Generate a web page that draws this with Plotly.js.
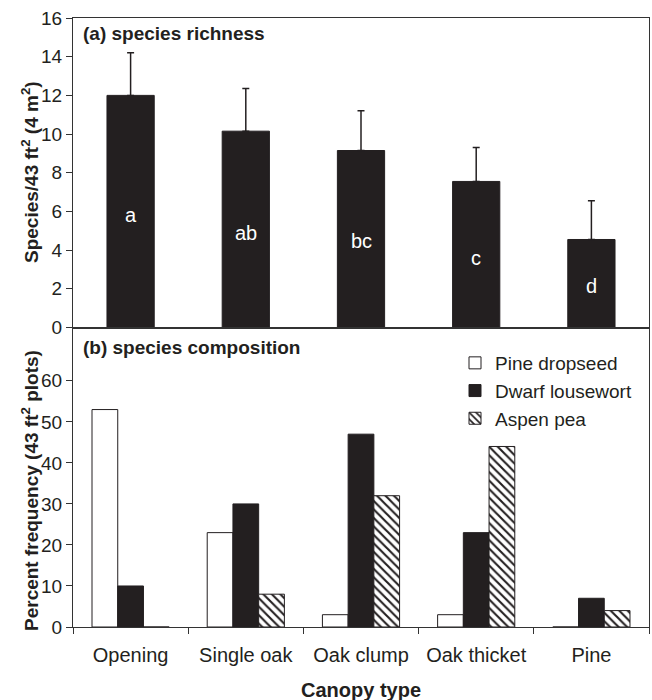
<!DOCTYPE html>
<html>
<head>
<meta charset="utf-8">
<script src="https://cdn.plot.ly/plotly-3.0.1.min.js"></script>
<style>html,body{margin:0;padding:0;background:#fff;}#chart{width:652px;height:700px;}</style>
</head>
<body>
<div id="chart"></div>
<script>
// ---- data ----
const categories = ['Opening', 'Single oak', 'Oak clump', 'Oak thicket', 'Pine'];
const richnessMean = [12.0, 10.15, 9.15, 7.55, 4.55];
const richnessErr = [2.2, 2.2, 2.05, 1.75, 2.0];
const richnessLetters = ['a', 'ab', 'bc', 'c', 'd'];
const letterY = [5.8, 4.9, 4.45, 3.6, 2.15];
const pineDropseed = [53, 23, 3, 3, 0];
const dwarfLousewort = [10, 30, 47, 23, 7];
const aspenPea = [0, 8, 32, 44, 4];
const richnessTicks = [0, 2, 4, 6, 8, 10, 12, 14, 16];
const freqTicks = [0, 10, 20, 30, 40, 50, 60];

const ink = '#231f20';
const font = 'Liberation Sans, Arial, sans-serif';

const traces = [
  {
    type: 'bar', x: categories, y: richnessMean, xaxis: 'x', yaxis: 'y',
    width: 0.41, showlegend: false,
    marker: {color: ink, line: {color: ink, width: 1}},
    error_y: {type: 'data', symmetric: false, array: richnessErr, arrayminus: richnessErr.map(() => 0),
              color: ink, thickness: 1.5, width: 3.5},
    hoverinfo: 'x+y'
  },
  {
    type: 'bar', name: 'Pine dropseed', x: categories, y: pineDropseed, xaxis: 'x2', yaxis: 'y2',
    marker: {color: '#ffffff', line: {color: ink, width: 1}}
  },
  {
    type: 'bar', name: 'Dwarf lousewort', x: categories, y: dwarfLousewort, xaxis: 'x2', yaxis: 'y2',
    marker: {color: ink, line: {color: ink, width: 1}}
  },
  {
    type: 'bar', name: 'Aspen pea', x: categories, y: aspenPea, xaxis: 'x2', yaxis: 'y2',
    marker: {color: '#ffffff', line: {color: ink, width: 1},
             pattern: {shape: '\\', fgcolor: ink, bgcolor: '#ffffff', size: 6, solidity: 0.35}}
  }
];

const annotations = richnessLetters.map((t, i) => ({
  text: t, x: categories[i], y: letterY[i], xref: 'x', yref: 'y',
  showarrow: false, font: {family: font, size: 20, color: '#ffffff'}
}));

annotations.push(
  {text: '<b>(a) species richness</b>', xref: 'paper', yref: 'paper', x: 0.014, y: (627 - 34) / 609,
   xanchor: 'left', yanchor: 'middle', showarrow: false, font: {family: font, size: 19, color: ink}},
  {text: '<b>(b) species composition</b>', xref: 'paper', yref: 'paper', x: 0.014, y: (627 - 347) / 609,
   xanchor: 'left', yanchor: 'middle', showarrow: false, font: {family: font, size: 19, color: ink}},
  {text: '<b>Species/43 ft<sup>2</sup> (4 m<sup>2</sup>)</b>', xref: 'paper', yref: 'paper',
   x: (30 - 73) / 576, y: (627 - 172) / 609, xanchor: 'center', yanchor: 'middle', textangle: -90,
   showarrow: false, font: {family: font, size: 19, color: ink}},
  {text: '<b>Percent frequency (43 ft<sup>2</sup> plots)</b>', xref: 'paper', yref: 'paper',
   x: (30 - 73) / 576, y: (627 - 491) / 609, xanchor: 'center', yanchor: 'middle', textangle: -90,
   showarrow: false, font: {family: font, size: 19, color: ink}},
  {text: '<b>Canopy type</b>', xref: 'paper', yref: 'paper',
   x: 0.5, y: (627 - 690) / 609, xanchor: 'center', yanchor: 'middle',
   showarrow: false, font: {family: font, size: 20, color: ink}}
);

const axisLine = {showline: true, linecolor: '#333', linewidth: 1, mirror: true, showgrid: false, zeroline: false};
const split = (627 - 327.5) / 609;

const layout = {
  width: 652, height: 700,
  margin: {l: 73, r: 3, t: 18, b: 73},
  paper_bgcolor: '#ffffff', plot_bgcolor: '#ffffff',
  font: {family: font, size: 19, color: ink},
  barmode: 'group', bargap: 0.33, bargroupgap: 0,
  showlegend: true,
  legend: {x: (455 - 73) / 576, y: (627 - 344) / 609, xanchor: 'left', yanchor: 'top',
           bgcolor: 'rgba(0,0,0,0)', borderwidth: 0, font: {family: font, size: 19, color: ink},
           traceorder: 'normal'},
  xaxis: Object.assign({}, axisLine, {domain: [0, 1], anchor: 'y', type: 'category', categoryarray: categories,
           showticklabels: false, ticks: ''}),
  yaxis: Object.assign({}, axisLine, {domain: [split, 1], anchor: 'x', range: [0, 16], tickvals: richnessTicks,
           ticks: 'outside', ticklen: 6, tickcolor: '#333', tickfont: {family: font, size: 19, color: ink}}),
  xaxis2: Object.assign({}, axisLine, {domain: [0, 1], anchor: 'y2', type: 'category', categoryarray: categories,
           ticks: 'outside', tickson: 'boundaries', ticklen: 6, tickcolor: '#333', ticklabelstandoff: 10,
           tickfont: {family: font, size: 20, color: ink}}),
  yaxis2: Object.assign({}, axisLine, {domain: [0, split], anchor: 'x2', range: [0, 73], tickvals: freqTicks,
           ticks: 'outside', ticklen: 6, tickcolor: '#333', tickfont: {family: font, size: 19, color: ink}}),
  annotations: annotations
};

Plotly.newPlot('chart', traces, layout, {displayModeBar: false, staticPlot: true});
</script>
</body>
</html>
